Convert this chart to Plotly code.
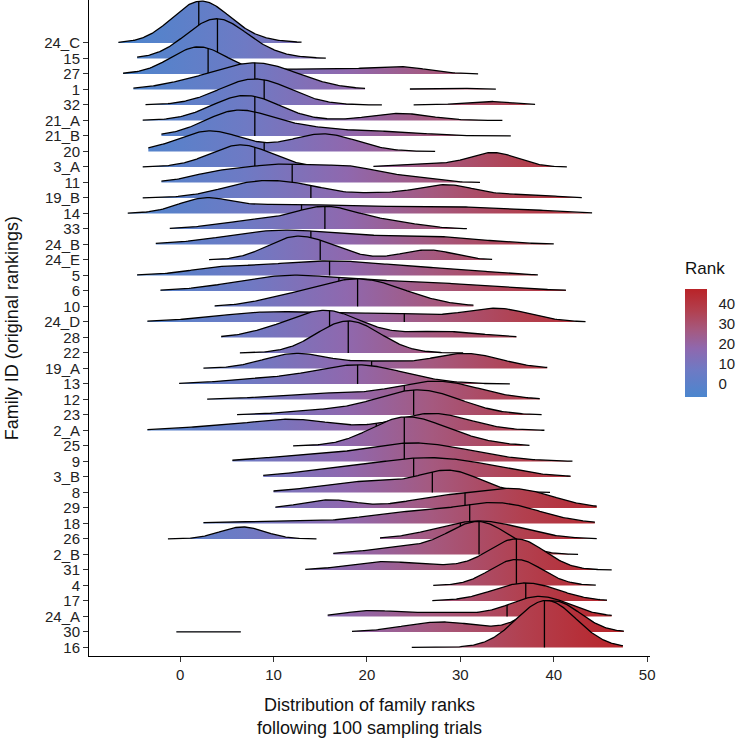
import numpy as np
import plotly.graph_objects as go

# Families, top to bottom as in the chart
families = ["24_C", "15", "27", "1", "32", "21_A", "21_B", "20", "3_A", "11",
            "19_B", "14", "33", "24_B", "24_E", "5", "6", "10", "24_D", "28",
            "22", "19_A", "13", "12", "23", "2_A", "25", "9", "3_B", "8",
            "29", "18", "26", "2_B", "31", "4", "17", "24_A", "30", "16"]

# median rank (quantile line) per family
medians = [2.0, 4.0, 3.0, 8.0, 9.0, 8.0, 8.0, 9.0, 8.0, 12.0,
           14.0, 13.0, 15.5, 14.0, 15.0, 16.0, 17.0, 19.0, 24.0, 16.0,
           18.0, 20.5, 19.0, 24.0, 25.0, 21.0, 24.0, 24.0, 25.0, 27.0,
           30.5, 31.0, 30.0, 32.0, 36.0, 36.0, 37.0, 35.0, 37.0, 39.0]

# rank ranges where each density ridge is drawn
extents = [
    [(-6.6, 13.0)], [(-4.6, 15.6)], [(-6.1, 31.9)], [(-5.0, 19.8), (24.6, 33.8)],
    [(-3.7, 21.6), (25.0, 38.0)], [(-4.0, 34.5)], [(-2.0, 35.4)], [(-3.4, 27.3)],
    [(-4.0, 15.5), (20.7, 41.4)], [(-2.0, 32.1)], [(-4.0, 43.0)], [(-5.6, 44.1)],
    [(-1.1, 30.7)], [(-2.6, 40.0)], [(3.1, 33.4)], [(-4.6, 38.3)],
    [(-2.1, 41.3)], [(3.7, 31.4)], [(-3.5, 43.4)], [(4.4, 36.0)],
    [(6.4, 30.3)], [(2.5, 39.3)], [(-0.1, 35.3)], [(2.9, 38.5)],
    [(6.1, 38.7)], [(-3.5, 39.0)], [(12.1, 37.4)], [(5.6, 42.0)],
    [(8.9, 41.8)], [(10.0, 39.6)], [(10.2, 44.6)], [(2.5, 44.4)],
    [(-1.3, 14.6), (21.4, 44.6)], [(16.4, 42.6)], [(13.4, 46.2)], [(27.1, 44.5)],
    [(27.0, 45.7)], [(15.8, 46.2)], [(-0.4, 6.5), (18.4, 47.5)], [(24.8, 47.4)],
]

# density modes: (rank, spread, relative density)
modes = [
    [(2.1, 3.0, 38), (5, 4, 5)],
    [(3.8, 3.2, 39), (9, 3, 3)],
    [(2.0, 3.0, 27), (11, 3, 4), (17, 3, 4), (23.5, 3, 7)],
    [(8, 4.6, 26.5), (0, 3, 3), (29, 3, 1.2)],
    [(8, 3.8, 26), (33, 2.5, 3.5)],
    [(7, 3.6, 25), (23.5, 3.2, 7)],
    [(6, 3.5, 24), (13, 4, 8), (22, 4, 4)],
    [(3.2, 3.5, 20.5), (15.3, 3.6, 17.5)],
    [(6.5, 3.3, 22), (33.5, 2.6, 14.3), (26, 3, 3)],
    [(4, 3, 9), (10.5, 3.5, 16), (18, 3.5, 15), (25, 2.5, 4)],
    [(8.5, 4, 16), (14, 3, 6), (21, 3, 4), (28.5, 3.2, 13), (37, 3, 3)],
    [(2.5, 2.8, 13), (10, 5, 6), (22, 9, 6.5), (30, 4, 2), (37, 3.5, 2)],
    [(15.5, 3.3, 20), (8, 4, 8), (22, 3.5, 7)],
    [(11, 6, 14), (26, 6, 8)],
    [(12, 3, 20), (16, 3, 8), (26.5, 2.8, 10)],
    [(16, 8, 14.5), (4, 3, 4), (30, 4, 3)],
    [(11, 5.5, 13), (24, 8, 9)],
    [(19, 5, 27.5), (10.5, 3, 4)],
    [(10, 6, 10), (23, 5, 7.5), (34, 3.5, 13)],
    [(15.5, 3.8, 27), (28, 4, 6), (9, 2.5, 3)],
    [(18, 3.4, 32)],
    [(12.5, 3.5, 15), (21, 3, 6), (30.5, 3.8, 15)],
    [(19, 5, 19), (8, 4, 4)],
    [(27.5, 4.5, 18), (15, 5, 6)],
    [(25.5, 4.5, 25), (15, 4, 4)],
    [(12, 4.5, 11), (27, 4, 17), (3, 4, 3)],
    [(24, 3.7, 27.7), (30, 3.5, 6)],
    [(25, 6, 18.5), (12, 4, 4)],
    [(26, 6, 18.5), (15, 4, 4), (33, 4, 3)],
    [(29, 3.2, 20), (20, 5, 11)],
    [(16, 2.8, 8), (28, 4, 10), (36, 4, 18)],
    [(34, 4.5, 20), (24, 4.5, 10), (10, 6, 2)],
    [(6.7, 2.4, 12), (32, 4.5, 18)],
    [(32, 3.2, 32), (24, 4, 7)],
    [(36, 3, 31), (21.5, 3.5, 8), (28, 3, 3)],
    [(36, 2.8, 26)],
    [(37, 3.5, 18)],
    [(20, 2.5, 5), (27, 4, 4), (38.5, 3.2, 20)],
    [(3, 2, 0.8), (28, 4, 10), (40, 2.8, 31)],
    [(39.2, 3.2, 47)],
]

tick_vals_x = [0, 10, 20, 30, 40, 50]
cbar_ticks = [0, 10, 20, 30, 40]

CMIN, CMAX = -6.6, 47.6
ROW = 15.5  # density units per row spacing
colorscale = [[0.0, "#4B86CE"], [0.25, "#6E7AC4"], [0.45, "#8F68AE"],
              [0.62, "#A5597F"], [0.8, "#B2404F"], [1.0, "#B92328"]]

FONT = "Liberation Sans, Arial, sans-serif"

# layout geometry (pixels)
W, H = 738, 741
ML, MR, MT, MB = 89, 88, 0, 85
PW, PH = W - ML - MR, H - MT - MB
CB_LEFT, CB_W, CB_TOP, CB_LEN = 685, 22, 289, 108


def dens(x, comps):
    y = np.zeros_like(x)
    for c, s, h in comps:
        y += h * np.exp(-0.5 * ((x - c) / s) ** 2)
    return y / ROW


fig = go.Figure()
n = len(families)
for i, name in enumerate(families):
    base = n - 1 - i
    comps = modes[i]
    for lo, hi in extents[i]:
        xs = np.linspace(lo, hi, 200)
        ys = base + dens(xs, comps)
        px = np.concatenate([xs, xs[::-1]])
        py = np.concatenate([ys, np.full_like(xs, base)])
        fig.add_trace(go.Scatter(
            x=px, y=py, mode="lines", fill="toself",
            line=dict(width=0, color="rgba(0,0,0,0)"),
            fillgradient=dict(type="horizontal", colorscale=colorscale,
                              start=CMIN, stop=CMAX),
            hoverinfo="skip", showlegend=False))
        fig.add_trace(go.Scatter(
            x=xs, y=ys, mode="lines", line=dict(color="black", width=1.3),
            hoverinfo="skip", showlegend=False))
    m = medians[i]
    top = base + dens(np.array([m], dtype=float), comps)[0]
    fig.add_trace(go.Scatter(
        x=[m, m], y=[base, top], mode="lines",
        line=dict(color="black", width=1.3),
        hoverinfo="skip", showlegend=False))

# colour bar carrier
cb_xp = (CB_LEFT - ML) / PW
cb_yc = (PH - (CB_TOP + CB_LEN / 2)) / PH
fig.add_trace(go.Scatter(
    x=[None], y=[None], mode="markers", showlegend=False, hoverinfo="skip",
    marker=dict(color=[0], colorscale=colorscale, cmin=CMIN, cmax=CMAX,
                showscale=True,
                colorbar=dict(
                    x=cb_xp, xanchor="left", y=cb_yc, yanchor="middle",
                    len=CB_LEN, lenmode="pixels", thickness=CB_W,
                    outlinewidth=0, xpad=0, ypad=0,
                    ticks="outside", tickcolor="white", ticklen=9,
                    tickvals=cbar_ticks,
                    tickfont=dict(family=FONT, size=15, color="#222")))))

# white tick marks inside the colour bar (both edges)
shapes = []
for v in cbar_ticks:
    ypx = CB_TOP + CB_LEN * (1 - (v - CMIN) / (CMAX - CMIN))
    yp = (PH - ypx) / PH
    for x0, x1 in [(CB_LEFT, CB_LEFT + 4.4), (CB_LEFT + CB_W - 4.4, CB_LEFT + CB_W)]:
        shapes.append(dict(type="line", xref="paper", yref="paper",
                           x0=(x0 - ML) / PW, x1=(x1 - ML) / PW, y0=yp, y1=yp,
                           line=dict(color="white", width=1)))

fig.update_layout(
    width=W, height=H,
    margin=dict(l=ML, r=MR, t=MT, b=MB),
    plot_bgcolor="white", paper_bgcolor="white",
    font=dict(family=FONT, size=15, color="#222"),
    xaxis=dict(range=[-9.75, 50.3], tickvals=tick_vals_x,
               ticks="outside", ticklen=5, tickcolor="#333",
               showline=True, linecolor="black", linewidth=1,
               showgrid=False, zeroline=False,
               tickfont=dict(family=FONT, size=15, color="#222")),
    yaxis=dict(range=[-0.55, 41.77],
               tickvals=list(range(n)), ticktext=families[::-1],
               ticks="outside", ticklen=5, tickcolor="#333",
               showline=True, linecolor="black", linewidth=1,
               showgrid=False, zeroline=False,
               tickfont=dict(family=FONT, size=15, color="#222")),
    shapes=shapes,
    annotations=[
        dict(text="Distribution of family ranks<br>following 100 sampling trials",
             xref="paper", yref="paper", x=0.5, y=-0.056, xanchor="center",
             yanchor="top", showarrow=False,
             font=dict(family=FONT, size=18, color="#111")),
        dict(text="Family ID (original rankings)", textangle=-90,
             xref="paper", yref="paper", x=-0.137, y=0.5, xanchor="center",
             yanchor="middle", showarrow=False,
             font=dict(family=FONT, size=18, color="#111")),
        dict(text="Rank", xref="paper", yref="paper",
             x=(CB_LEFT - 2 - ML) / PW, y=(PH - 268) / PH,
             xanchor="left", yanchor="middle", showarrow=False,
             font=dict(family=FONT, size=17, color="#111")),
    ],
)

fig.write_html("out.html", config={"displayModeBar": False},
               post_script="document.body.style.margin='0px';")
